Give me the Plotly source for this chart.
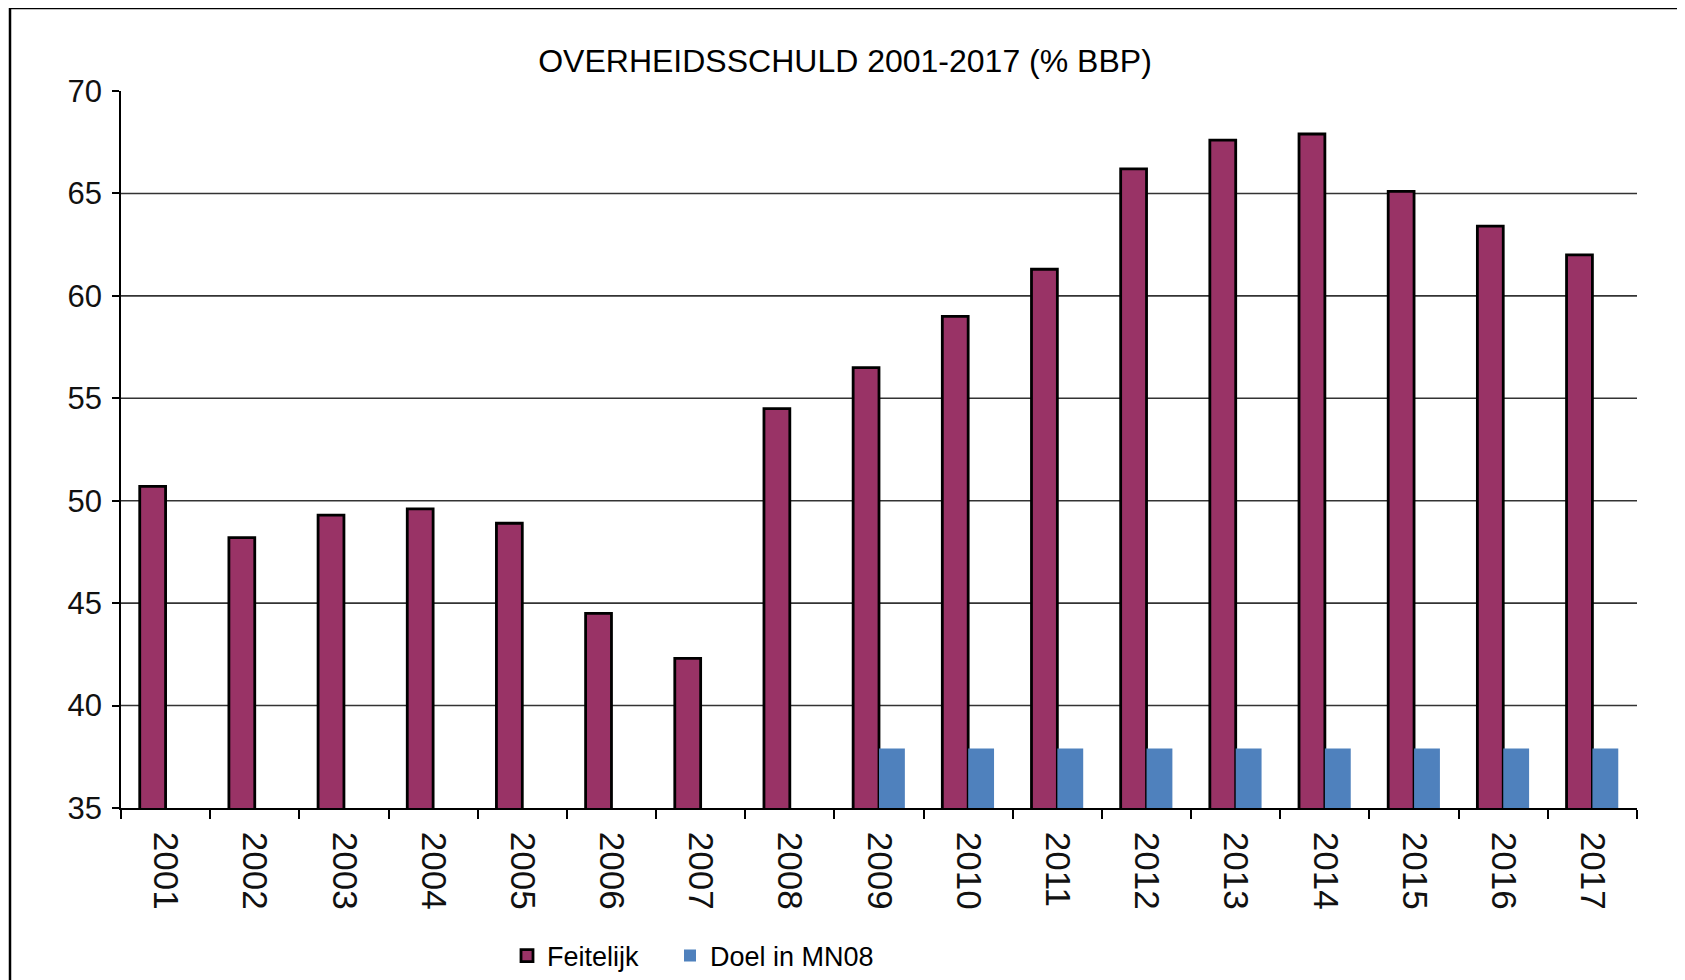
import plotly.graph_objects as go

years = [str(y) for y in range(2001, 2018)]
feitelijk = [50.7, 48.2, 49.3, 49.6, 48.9, 44.5, 42.3, 54.5, 56.5, 59.0, 61.3,
             66.2, 67.6, 67.9, 65.1, 63.4, 62.0]
doel = [None, None, None, None, None, None, None, None, 37.9, 37.9, 37.9,
        37.9, 37.9, 37.9, 37.9, 37.9, 37.9]
y_ticks = [35, 40, 45, 50, 55, 60, 65, 70]
grid_vals = [40, 45, 50, 55, 60, 65]

# page has an 8px body margin, so figure coords = page coords - 8
W, H = 1677, 972
ML, MR, MT, MB = 113, 48, 83, 172
PW = W - ML - MR
PH = H - MT - MB

def px_x(p):
    return (p - ML) / PW

def px_y(p):
    return (H - MB - p) / PH

regular = "Liberation Sans, Arial, sans-serif"

fig = go.Figure()
fig.add_trace(go.Bar(
    x=years, y=feitelijk, name="Feitelijk", legend="legend", showlegend=True,
    marker=dict(color="#993366", line=dict(color="#000000", width=2.8)),
))
fig.add_trace(go.Bar(
    x=years, y=doel, name="Doel in MN08", legend="legend2", showlegend=True,
    marker=dict(color="#4F81BD", line=dict(color="#4F81BD", width=0)),
))

shapes = []
for g in grid_vals:
    shapes.append(dict(type="line", xref="paper", yref="y", x0=0, x1=1, y0=g, y1=g,
                       line=dict(color="#333333", width=1.6), layer="below"))
# outer frame
shapes.append(dict(type="rect", xref="paper", yref="paper",
                   x0=px_x(2), x1=px_x(1674), y0=px_y(990), y1=px_y(0),
                   line=dict(color="#000000", width=2.5), fillcolor="rgba(0,0,0,0)"))

leg_common = dict(orientation="h", xanchor="left", yanchor="middle", visible=True,
                  font=dict(family=regular, size=27, color="#000000"),
                  bgcolor="rgba(0,0,0,0)", itemwidth=30)

fig.update_layout(
    width=W, height=H, showlegend=True,
    margin=dict(l=ML, r=MR, t=MT, b=MB, autoexpand=False),
    paper_bgcolor="white", plot_bgcolor="white",
    barmode="group", bargap=0.42, bargroupgap=0,
    title=dict(text="OVERHEIDSSCHULD 2001-2017 (% BBP)", xref="container", x=837 / W,
               xanchor="center", yref="container", y=1 - 53 / H, yanchor="middle",
               font=dict(family=regular, size=32, color="#000000")),
    legend=dict(x=px_x(499), y=px_y(948), **leg_common),
    legend2=dict(x=px_x(662), y=px_y(948), **leg_common),
    shapes=shapes,
    font=dict(family=regular, color="#000000"),
)
fig.update_yaxes(
    range=[35, 70], tickvals=y_ticks, ticktext=[str(v) for v in y_ticks],
    showgrid=False, zeroline=False, showline=True, linecolor="#000000", linewidth=1.5,
    ticks="outside", ticklen=7, tickwidth=1.5, tickcolor="#000000",
    tickfont=dict(family=regular, size=31, color="#111111"), ticklabelstandoff=4,
)
fig.update_xaxes(
    type="category", tickangle=90, tickson="boundaries",
    showgrid=False, zeroline=False, showline=True, linecolor="#000000", linewidth=1.5,
    ticks="outside", ticklen=9, tickwidth=1.5, tickcolor="#000000",
    tickfont=dict(family=regular, size=35, color="#111111"), ticklabelstandoff=15,
)

fig.write_html("out.html")
